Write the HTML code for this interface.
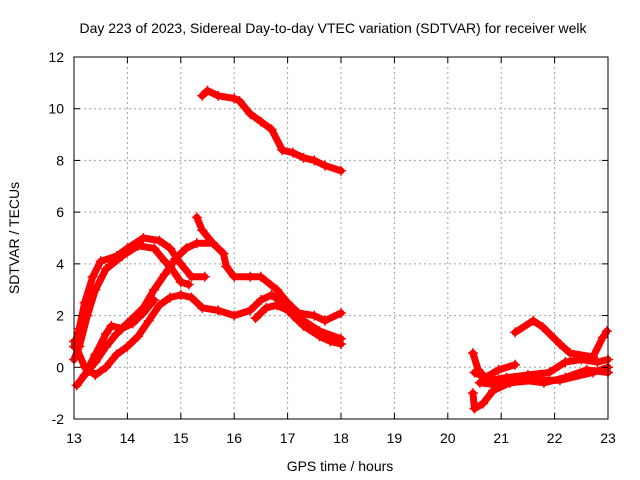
<!DOCTYPE html>
<html><head><meta charset="utf-8"><style>
body{margin:0;background:#fff;}
svg{display:block;font-family:"Liberation Sans",sans-serif;}
</style></head><body>
<svg id="chart" width="640" height="480">
<rect width="640" height="480" fill="#fff"/>
<g id="grid"></g>
<g id="series"></g>
<rect x="74" y="57" width="534" height="362" fill="none" stroke="#000" stroke-width="1"/>
<g id="ticks"></g>
<text x="333" y="33" text-anchor="middle" font-size="14">Day 223 of 2023, Sidereal Day-to-day VTEC variation (SDTVAR) for receiver welk</text>
<text x="340" y="471" text-anchor="middle" font-size="14">GPS time / hours</text>
<text transform="translate(19,238) rotate(-90)" text-anchor="middle" font-size="14">SDTVAR / TECUs</text>
</svg>
<script>
const xTicks=[13,14,15,16,17,18,19,20,21,22,23];
const yTicks=[-2,0,2,4,6,8,10,12];
const s1=[[15.4,10.5],[15.5,10.7],[15.7,10.5],[16.0,10.4],[16.1,10.3],[16.3,9.8],[16.5,9.5],[16.7,9.2],[16.9,8.4],[17.1,8.3],[17.3,8.1],[17.5,8.0],[17.7,7.8],[18.0,7.6]];
const s2=[[13.0,0.8],[13.1,1.5],[13.2,2.5],[13.35,3.5],[13.5,4.1],[13.8,4.3],[14.0,4.6],[14.3,5.0],[14.6,4.9],[14.8,4.6],[15.0,4.0],[15.2,3.5],[15.45,3.5]];
const s3=[[13.0,0.3],[13.1,0.8],[13.25,2.0],[13.4,3.0],[13.6,3.8],[13.9,4.3],[14.2,4.7],[14.5,4.6],[14.7,4.1],[14.8,3.9],[15.0,3.3],[15.15,3.2]];
const s4=[[13.05,-0.7],[13.2,-0.3],[13.4,0.2],[13.6,0.8],[13.8,1.3],[14.0,1.7],[14.3,2.3],[14.5,3.0],[14.7,3.6],[14.9,4.2],[15.1,4.6],[15.3,4.8],[15.6,4.8],[15.8,4.4],[15.85,3.9],[16.0,3.5],[16.3,3.5],[16.5,3.5],[16.8,3.0],[17.0,2.5],[17.2,2.1],[17.5,2.0],[17.7,1.8],[18.0,2.1]];
const s5=[[15.3,5.8],[15.4,5.3],[15.6,4.8]];
const s6=[[13.0,1.0],[13.2,0.0],[13.4,-0.3],[13.6,0.0],[13.8,0.5],[14.0,0.8],[14.2,1.2],[14.4,1.8],[14.6,2.4],[14.8,2.7],[15.0,2.8],[15.2,2.7],[15.4,2.3],[15.7,2.2],[16.0,2.0],[16.3,2.2],[16.5,2.6],[16.7,2.8],[16.9,2.5],[17.1,2.0],[17.3,1.6],[17.6,1.2],[17.8,1.0],[18.0,0.9]];
const s7=[[13.2,-0.3],[13.4,0.5],[13.6,1.3],[13.7,1.6],[13.9,1.5],[14.1,1.7],[14.3,2.1],[14.5,2.6]];
const s8=[[16.4,1.9],[16.6,2.3],[16.8,2.4],[17.0,2.2],[17.3,1.8],[17.6,1.4],[18.0,1.1]];
const u1=[[21.26,1.35],[21.6,1.8],[21.78,1.55],[22.1,0.9],[22.29,0.55],[22.72,0.4],[22.9,1.15],[22.98,1.4]];
const u2=[[20.47,0.55],[20.57,-0.1],[20.7,-0.4],[20.95,-0.1],[21.26,0.1]];
const u3=[[20.47,-1.0],[20.5,-1.6],[20.66,-1.4],[20.85,-0.9],[21.16,-0.6],[21.67,-0.5],[22.1,-0.5],[22.72,-0.2],[23.0,0.0]];
const u4=[[20.5,-0.2],[20.8,-0.5],[21.1,-0.4],[21.5,-0.3],[21.9,-0.2],[22.2,0.2],[22.5,0.3],[22.8,0.2],[23.0,0.3]];
const u5=[[20.6,-0.6],[21.0,-0.7],[21.4,-0.5],[21.8,-0.6],[22.2,-0.4],[22.6,-0.1],[23.0,-0.2]];
const allSeries=[s1,s2,s3,s4,s5,s6,s7,s8,u1,u2,u3,u4,u5];

const NS='http://www.w3.org/2000/svg';
const X0=74,X1=608,Y0=419,Y1=57;
function xs(v){return X0+(v-13)/(23-13)*(X1-X0);}
function ys(v){return Y0-(v+2)/(12+2)*(Y0-Y1);}
function mk(t,a,p){const e=document.createElementNS(NS,t);for(const k in a)e.setAttribute(k,a[k]);p.appendChild(e);return e;}
const grid=document.getElementById('grid'),ticks=document.getElementById('ticks'),ser=document.getElementById('series');
xTicks.forEach(v=>{const x=xs(v);
 if(v>13&&v<23){const g=mk('line',{x1:x,x2:x,y1:Y1,y2:Y0,stroke:'#a0a0a0','stroke-dasharray':'2,3'},grid);
 
 }
 mk('line',{x1:x,x2:x,y1:Y0,y2:Y0-6,stroke:'#000'},ticks);
 mk('line',{x1:x,x2:x,y1:Y1,y2:Y1+6,stroke:'#000'},ticks);
 const t=mk('text',{x:x,y:443,'text-anchor':'middle','font-size':14},ticks);t.textContent=v;
 
 });
yTicks.forEach(v=>{const y=ys(v);
 if(v>-2&&v<12){const g=mk('line',{x1:X0,x2:X1,y1:y,y2:y,stroke:'#a0a0a0','stroke-dasharray':'2,3'},grid);
 
 }
 mk('line',{x1:X0,x2:X0+6,y1:y,y2:y,stroke:'#000'},ticks);
 mk('line',{x1:X1,x2:X1-6,y1:y,y2:y,stroke:'#000'},ticks);
 const t=mk('text',{x:64,y:y+5,'text-anchor':'end','font-size':14},ticks);t.textContent=v;
 
 });
allSeries.forEach((s,i)=>{
 const pts=s.map(p=>xs(p[0]).toFixed(1)+','+ys(p[1]).toFixed(1)).join(' ');
 const pl=mk('polyline',{points:pts,fill:'none',stroke:'#ff0000','stroke-width':7,'stroke-linejoin':'round','stroke-linecap':'round'},ser);
 
 
 s.forEach(p=>{const x=xs(p[0]),y=ys(p[1]);
  const m=mk('path',{d:`M${x-5},${y}H${x+5}M${x},${y-5}V${y+5}`,stroke:'#ff0000','stroke-width':1.5},ser);
  
  });
});
</script>
</body></html>
